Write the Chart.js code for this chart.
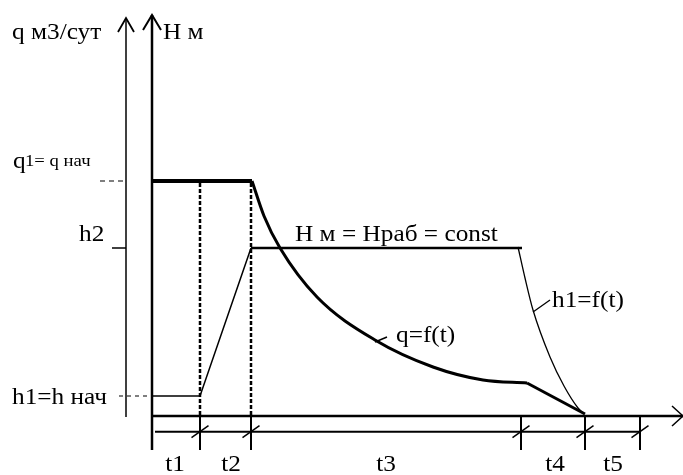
<!DOCTYPE html>
<html>
<head>
<meta charset="utf-8">
<script src="https://cdn.jsdelivr.net/npm/chart.js@4/dist/chart.umd.min.js"></script>
<style>
  html, body { margin: 0; padding: 0; background: #fff; }
  canvas { display: block; }
</style>
</head>
<body>
<canvas id="c" width="683" height="475"></canvas>
<script>
// schematic units: time along x, level / rate along y (origin = where the H axis meets the time axis)
const tEdges = [4.8, 9.9, 36.9, 43.3, 48.8];   // t1..t5 boundaries
const tLabels = ['t1', 't2', 't3', 't4', 't5'];
const tLabelPos = [2.3, 7.9, 23.4, 40.3, 46.1];

const qStart = 23.5;   // q1 = q нач
const h2Level = 16.8;  // Hраб
const h1Level = 2.0;   // h1 = h нач

// q = f(t) decline after t2
const qCurveT = [10.0, 11.2, 12.8, 16.5, 22.3, 28.1, 33.1, 37.5];
const qCurveV = [23.5, 20.0, 16.8, 11.9, 7.6, 4.9, 3.6, 3.3];
const qEnd = [43.3, 0.2];

// h1 = f(t) drop at the end
const hDropT = [36.6, 37.3, 38.1, 39.8, 41.2, 42.6, 43.2];
const hDropV = [16.9, 13.8, 10.6, 5.9, 3.0, 0.8, 0.2];

const xMin = -15.2, xMax = 53.1, yMin = -5.9, yMax = 41.6;
const qAxisX = -2.6;
const dimY = -1.57, tickBottom = -3.4;

const datasets = [];
function seg(pts, width, extra) {
  datasets.push(Object.assign({
    data: pts.map(p => ({ x: p[0], y: p[1] })),
    showLine: true, pointRadius: 0, borderColor: '#000', borderWidth: width,
    tension: 0, clip: false, borderCapStyle: 'butt'
  }, extra || {}));
}
const zip = (a, b) => a.map((v, i) => [v, b[i]]);

// axes
seg([[0, tickBottom], [0, 40.1]], 2.5);
seg([[-0.9, 38.6], [0, 40.1], [0.9, 38.6]], 2);
seg([[qAxisX, -0.1], [qAxisX, 39.8]], 1.5);
seg([[qAxisX - 0.8, 38.4], [qAxisX, 39.8], [qAxisX + 0.8, 38.4]], 1.8);
seg([[0, 0], [53.1, 0]], 2.4);
seg([[52.0, 1.0], [53.1, 0], [52.0, -1.0]], 1.5);
// dimension line with ticks
seg([[0.3, dimY], [tEdges[tEdges.length - 1], dimY]], 2);
tEdges.forEach(t => {
  seg([[t, 0], [t, tickBottom]], 2);
  seg([[t - 0.85, dimY - 0.6], [t + 0.85, dimY + 0.6]], 1.5);
});
// dashed verticals at t1, t2
seg([[tEdges[0], qStart - 0.2], [tEdges[0], 0]], 2.5, { borderDash: [4, 2] });
seg([[tEdges[1], qStart - 0.2], [tEdges[1], 0]], 2.5, { borderDash: [4, 2] });
// guide marks on the q axis
seg([[-5.2, qStart], [qAxisX, qStart]], 1.2, { borderDash: [5, 4] });
seg([[-4.0, h2Level], [qAxisX, h2Level]], 1.5);
seg([[-3.3, h1Level], [0, h1Level]], 1.2, { borderDash: [4, 4] });

// q line
seg([[0, qStart], [qCurveT[0], qStart]], 4);
seg(zip(qCurveT, qCurveV), 3, { cubicInterpolationMode: 'monotone' });
seg([[qCurveT[qCurveT.length - 1], qCurveV[qCurveV.length - 1]], qEnd], 3);

// H line
seg([[0, h1Level], [tEdges[0], h1Level], [tEdges[1], h2Level]], 1.5);
seg([[tEdges[1], h2Level], [37.0, h2Level]], 2.5);
seg(zip(hDropT, hDropV), 1.3, { cubicInterpolationMode: 'monotone' });

// leaders
seg([[22.3, 7.4], [23.5, 7.9]], 1.5);
seg([[38.1, 10.4], [39.8, 11.6]], 1.3);

const labels = [
  { text: 'q м3/сут', x: -14.0, y: 37.7, size: 23 },
  { text: 'H м', x: 1.1, y: 37.7, size: 23 },
  { text: 'q', x: -13.9, y: 24.8, size: 23 },
  { text: '1= q нач', x: -12.7, y: 25.0, size: 17 },
  { text: 'h2', x: -7.3, y: 17.5, size: 23 },
  { text: 'h1=h нач', x: -14.0, y: 1.2, size: 23 },
  { text: 'H м = Hраб = const', x: 14.3, y: 17.5, size: 23 },
  { text: 'q=f(t)', x: 24.4, y: 7.4, size: 23 },
  { text: 'h1=f(t)', x: 40.0, y: 10.9, size: 23 }
];
tLabels.forEach((s, i) => labels.push({ text: s, x: tLabelPos[i], y: -5.5, size: 23, align: 'center' }));

const textPlugin = {
  id: 'texts',
  afterDatasetsDraw(chart) {
    const { ctx, scales } = chart;
    ctx.fillStyle = '#000';
    ctx.textBaseline = 'alphabetic';
    labels.forEach(l => {
      ctx.save();
      ctx.font = l.size + 'px "Liberation Serif", "Times New Roman", serif';
      ctx.textAlign = l.align || 'left';
      ctx.translate(scales.x.getPixelForValue(l.x), scales.y.getPixelForValue(l.y));
      ctx.scale(1.1, 1);   // the source type is set a little wide
      ctx.fillText(l.text, 0, 0);
      ctx.restore();
    });
  }
};

new Chart(document.getElementById('c'), {
  type: 'scatter',
  data: { datasets },
  options: {
    responsive: false,
    animation: false,
    layout: { padding: 0 },
    plugins: { legend: { display: false }, tooltip: { enabled: false } },
    scales: {
      x: { type: 'linear', min: xMin, max: xMax, display: false },
      y: { type: 'linear', min: yMin, max: yMax, display: false }
    }
  },
  plugins: [textPlugin]
});
</script>
</body>
</html>
